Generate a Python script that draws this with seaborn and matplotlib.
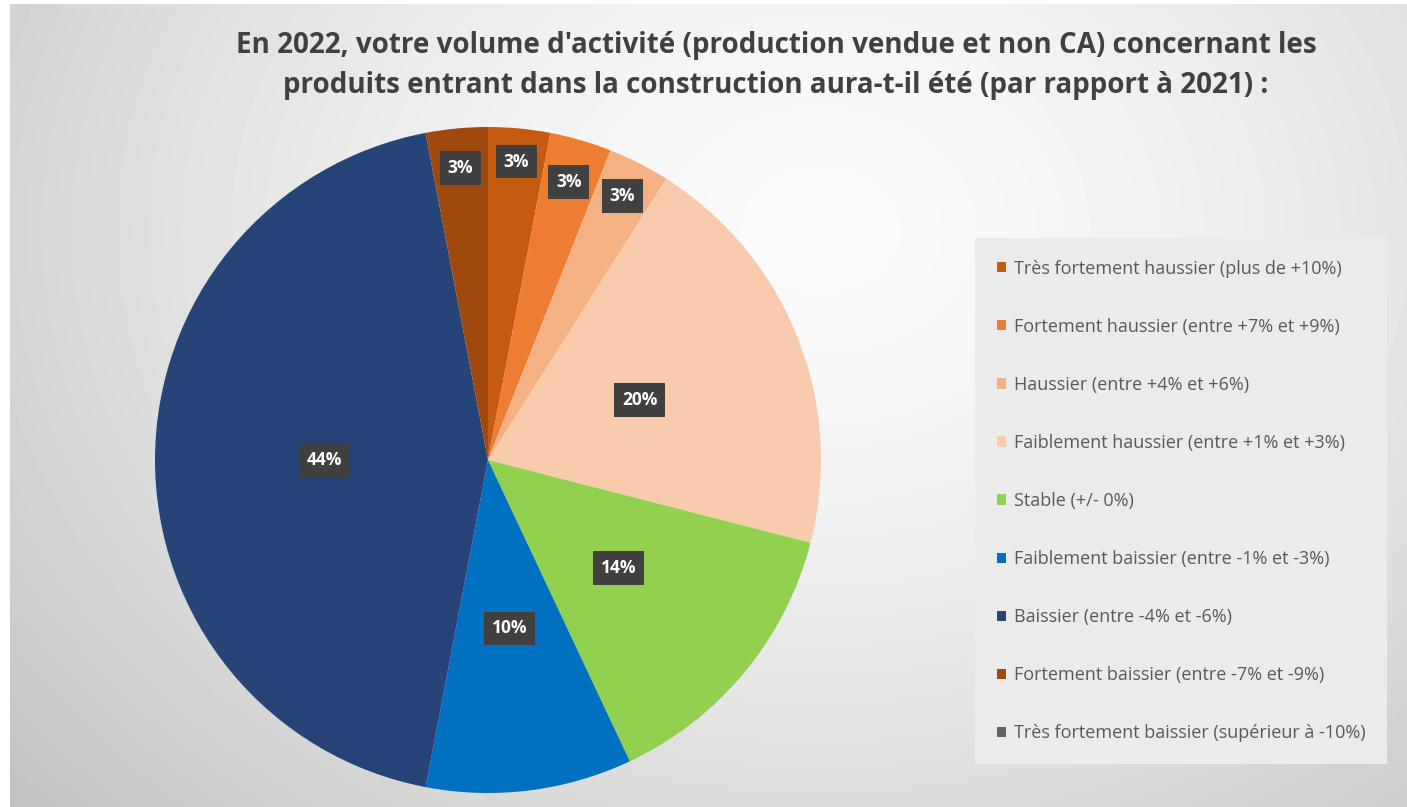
import numpy as np
import matplotlib
matplotlib.use("Agg")
import matplotlib.pyplot as plt
import seaborn as sns
from matplotlib.patches import Patch

# data
categories = [
    "Très fortement haussier (plus de +10%)",
    "Fortement haussier (entre +7% et +9%)",
    "Haussier (entre +4% et +6%)",
    "Faiblement haussier (entre +1% et +3%)",
    "Stable (+/- 0%)",
    "Faiblement baissier (entre -1% et -3%)",
    "Baissier (entre -4% et -6%)",
    "Fortement baissier (entre -7% et -9%)",
    "Très fortement baissier (supérieur à -10%)",
]
shares = [3, 3, 3, 20, 14, 10, 44, 3, 0]
slice_colors = ["#C55A11", "#ED7D31", "#F4B183", "#F8CBAD", "#92D050",
                "#0070C0", "#264478", "#9E480E", "#636363"]
title_lines = [
    "En 2022, votre volume d'activité (production vendue et non CA) concernant les",
    "produits entrant dans la construction aura-t-il été (par rapport à 2021) :",
]

# label distance from centre (fraction of radius), Excel "best fit" look
label_radius = [0.90, 0.87, 0.89, 0.49, 0.51, 0.51, 0.49, 0.88, 0.0]

sns.set_theme(style="white")
plt.rcParams["font.family"] = ["Open Sans", "DejaVu Sans"]
palette = sns.color_palette(slice_colors)

W, H = 1407, 807
fig = plt.figure(figsize=(W / 100, H / 100), dpi=100)

# radial grey background
bg = fig.add_axes([0, 0, 1, 1])
yy, xx = np.mgrid[0:H, 0:W]
dist = np.sqrt(((xx - 820) / 1000) ** 2 + ((yy - 230) / 800) ** 2)
shade = np.clip(0.985 - 0.2 * dist ** 1.5, 0, 1)
shade[:, :10] = 1.0
shade[:4, :] = 1.0
bg.imshow(shade, cmap="gray", vmin=0, vmax=1, extent=(0, W, H, 0), aspect="auto")
bg.set_xlim(0, W)
bg.set_ylim(H, 0)
bg.axis("off")

# pie
cx, cy, r = 488, 460, 333
ax = fig.add_axes([(cx - r) / W, (H - cy - r) / H, 2 * r / W, 2 * r / H])
wedges, _ = ax.pie(
    shares,
    colors=palette,
    startangle=90,
    counterclock=False,
    wedgeprops=dict(linewidth=0),
)
ax.set_xlim(-1, 1)
ax.set_ylim(-1, 1)
ax.axis("off")

for w, s, rad in zip(wedges, shares, label_radius):
    if s == 0:
        continue
    theta = np.deg2rad((w.theta1 + w.theta2) / 2)
    ax.text(
        rad * np.cos(theta),
        rad * np.sin(theta),
        f"{s}%",
        ha="center",
        va="center",
        color="white",
        fontsize=12.5,
        fontweight="bold",
        bbox=dict(boxstyle="square,pad=0.45", fc="#404040", ec="none"),
    )

# title
for i, line in enumerate(title_lines):
    fig.text(776 / W, 1 - (45 + 40 * i) / H, line, ha="center", va="center",
             fontsize=20, fontweight="bold", color="#404040")

# legend
handles = [Patch(facecolor=c, edgecolor="none") for c in palette]
leg = fig.legend(
    handles,
    categories,
    loc="upper left",
    bbox_to_anchor=(975 / W, 1 - 238 / H),
    frameon=True,
    fancybox=False,
    facecolor="#EBEBEB",
    edgecolor="none",
    framealpha=1,
    fontsize=13,
    labelcolor="#595959",
    handlelength=0.5,
    handleheight=0.5,
    handletextpad=0.45,
    labelspacing=2.22,
    borderpad=1.2,
    borderaxespad=0,
)

fig.savefig("out.png", dpi=100)
